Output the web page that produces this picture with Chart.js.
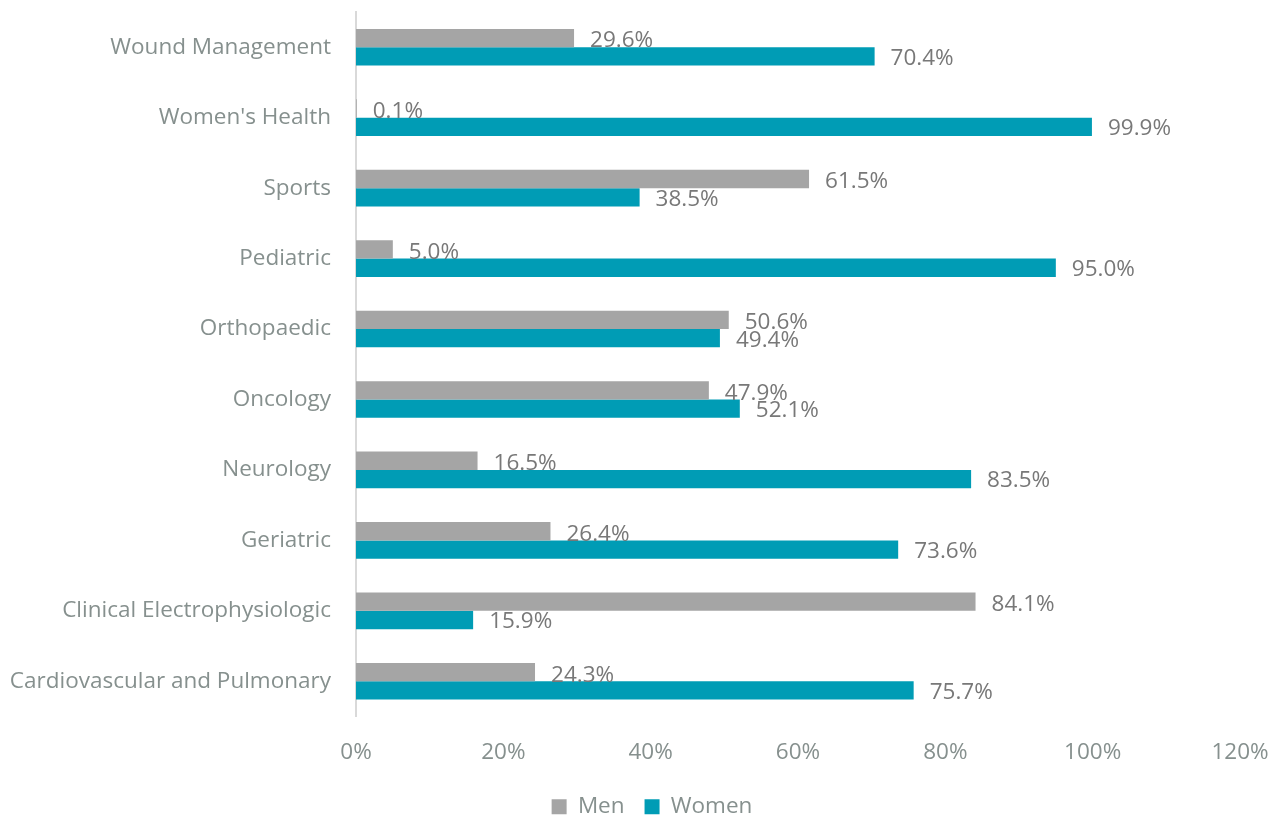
<!DOCTYPE html>
<html lang="en">
<head>
    <meta charset="UTF-8">
    <title>Men and Women by Specialty</title>
    <script src="https://cdn.jsdelivr.net/npm/chart.js"></script>
    <style>
        html, body { margin: 0; padding: 0; background: #fff; }
        .wrap { width: 1277px; height: 817px; }
    </style>
</head>
<body>
    <div class="wrap">
        <canvas id="genderChart" width="1277" height="817"></canvas>
    </div>

    <script>
const categories = [
    'Wound Management', "Women's Health", 'Sports', 'Pediatric', 'Orthopaedic',
    'Oncology', 'Neurology', 'Geriatric', 'Clinical Electrophysiologic',
    'Cardiovascular and Pulmonary'
];
const menValues = [29.6, 0.1, 61.5, 5.0, 50.6, 47.9, 16.5, 26.4, 84.1, 24.3];
const womenValues = [70.4, 99.9, 38.5, 95.0, 49.4, 52.1, 83.5, 73.6, 15.9, 75.7];
const xTicks = [0, 20, 40, 60, 80, 100, 120];

const labelFont = '"Open Sans", "Noto Sans", sans-serif';
const textColor = '#86908e';
const fontSize = 22.5;

// draws the value next to every bar
const valueLabels = {
    id: 'valueLabels',
    afterDatasetsDraw(chart) {
        const ctx = chart.ctx;
        ctx.save();
        ctx.font = fontSize + 'px ' + labelFont;
        ctx.fillStyle = '#787878';
        ctx.textAlign = 'left';
        ctx.textBaseline = 'middle';
        chart.data.datasets.forEach((ds, i) => {
            const meta = chart.getDatasetMeta(i);
            meta.data.forEach((bar, j) => {
                const dy = i === 0 ? 3 : 2;
                ctx.fillText(ds.data[j].toFixed(1) + '%', bar.x + 16, bar.y + dy);
            });
        });
        ctx.restore();
    }
};

// the original legend sits a little right of the page centre
const legendShift = {
    id: 'legendShift',
    afterLayout(chart) {
        if (chart.legend) chart.legend.left += 54;
    }
};

new Chart(document.getElementById('genderChart'), {
    type: 'bar',
    data: {
        labels: categories,
        datasets: [
            {
                label: 'Men',
                data: menValues,
                backgroundColor: '#a5a5a5',
                categoryPercentage: 0.52,
                barPercentage: 1.0
            },
            {
                label: 'Women',
                data: womenValues,
                backgroundColor: '#009cb5',
                categoryPercentage: 0.52,
                barPercentage: 1.0
            }
        ]
    },
    options: {
        indexAxis: 'y',
        responsive: false,
        animation: false,
        layout: { padding: { left: 10, right: 37, top: 12, bottom: -11 } },
        scales: {
            x: {
                min: 0,
                max: 120,
                afterBuildTicks: axis => { axis.ticks = xTicks.map(v => ({ value: v })); },
                afterFit: axis => {
                    axis.height = 59;
                    axis.paddingLeft = 0;
                    axis.paddingRight = 0;
                },
                grid: { display: false, drawTicks: false },
                border: { display: false },
                ticks: {
                    padding: 23,
                    color: textColor,
                    font: { family: labelFont, size: fontSize },
                    callback: v => v + '%'
                }
            },
            y: {
                afterFit: axis => {
                    axis.width = 346;
                    axis.paddingTop = 0;
                    axis.paddingBottom = 0;
                },
                grid: { display: false, drawTicks: false },
                border: { display: true, color: '#d9d9d9', width: 2 },
                ticks: {
                    padding: 25,
                    color: textColor,
                    font: { family: labelFont, size: fontSize }
                }
            }
        },
        plugins: {
            legend: {
                position: 'bottom',
                labels: {
                    color: textColor,
                    font: { family: labelFont, size: fontSize },
                    boxWidth: 15,
                    boxHeight: 15,
                    padding: 20
                }
            },
            tooltip: { enabled: false }
        }
    },
    plugins: [valueLabels, legendShift]
});
</script>
</body>
</html>
